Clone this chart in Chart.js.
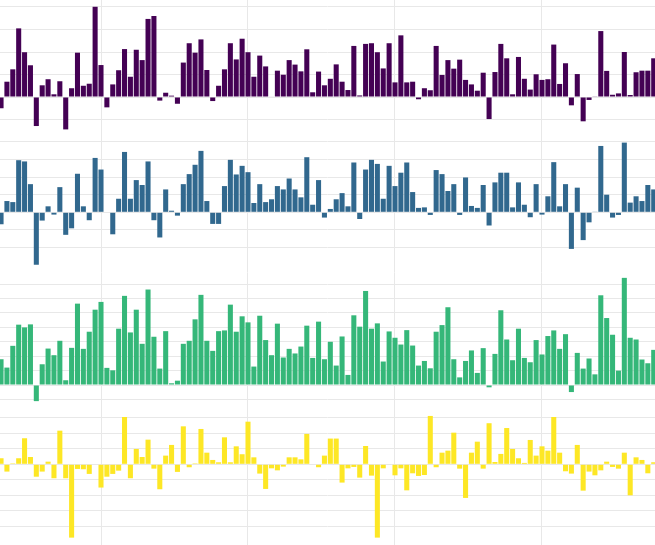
<!DOCTYPE html>
<html>
<head>
<meta charset="utf-8">
<script src="https://cdn.jsdelivr.net/npm/chart.js@4.4.0/dist/chart.umd.min.js"></script>
<style>
  html, body { margin: 0; padding: 0; background: #fff; }
  #wrap { width: 655px; height: 545px; }
</style>
</head>
<body>
<div id="wrap"><canvas id="myChart"></canvas></div>
<script>
// x positions of the bars (vertical gridline every 25 bars)
const barIndex = [];
for (let k = -17; k <= 94; k++) barIndex.push(k);

// series values, one per bar
const purple = [
  -0.5, 0.68, 1.23, 3.05, 1.99, 1.41, -1.29, 0.52, 0.79, 0.12,
  0.70, -1.44, 0.39, 1.97, 0.50, 0.59, 4.01, 1.42, -0.46, 0.56,
  1.19, 2.13, 0.90, 2.10, 1.64, 3.47, 3.6, -0.16, 0.19, 0.06,
  -0.3, 1.53, 2.39, 1.97, 2.56, 1.2, -0.18, 0.5, 1.23, 2.39,
  1.67, 2.59, 1.99, 0.90, 1.84, 1.36, 0.02, 1.17, 0.99, 1.64,
  1.44, 1.14, 2.12, 0.21, 1.13, 0.52, 0.81, 1.45, 0.68, 0.31,
  2.27, 0.07, 2.36, 2.39, 1.99, 1.27, 2.39, 0.65, 2.74, 0.65,
  0.68, -0.1, 0.39, 0.3, 2.27, 0.98, 1.64, 1.26, 1.66, 0.76,
  0.56, 0.28, 1.08, -0.98, 1.11, 2.36, 1.72, 0.12, 1.78, 0.81,
  0.33, 1.01, 0.76, 0.79, 2.33, 0.58, 1.5, -0.37, 1.02, -1.08,
  -0.13, 0.03, 2.93, 1.16, 0.1, 0.16, 2.0, 0.09, 1.1, 1.17,
  1.17, 1.72
];
const blue = [
  -0.68, 0.64, 0.58, 2.96, 2.89, 1.6, -2.98, -0.47, 0.34, -0.13,
  1.43, -1.28, -0.91, 2.19, 0.34, -0.45, 3.09, 2.43, 0, -1.25,
  0.77, 3.43, 0.77, 1.83, 1.55, 2.89, -0.45, -1.43, 1.3, 0.09,
  -0.19, 1.6, 2.17, 2.7, 3.49, 0.64, -0.66, -0.66, 1.49, 2.98,
  2.15, 2.64, 2.28, 0.53, 1.6, 0.58, 0.74, 1.49, 1.3, 1.92,
  1.3, 0.85, 3.13, 0.43, 1.83, -0.3, 0.19, 0.74, 1.09, 0.34,
  2.83, -0.38, 2.43, 2.98, 2.75, 0.77, 2.64, 1.49, 2.25, 2.83,
  1.15, 0.25, 0.28, -0.15, 2.4, 2.17, 1.21, 1.6, -0.15, 1.98,
  0.36, 0.25, 1.55, -0.75, 1.7, 2.25, 2.25, 0.28, 1.7, 0.43,
  -0.28, 1.6, -0.13, 0.91, 2.85, 0.34, 1.6, -2.08, 1.4, -1.58,
  -0.57, 0.02, 3.77, 1.0, -0.3, -0.15, 3.96, 0.55, 0.91, 0.64,
  1.55, 1.3
];
const green = [
  1.79, 1.21, 2.72, 4.19, 4.0, 4.21, -1.12, 1.44, 2.53, 2.07,
  3.07, 0.33, 2.58, 5.65, 2.51, 3.7, 5.23, 5.77, 1.19, 1.02,
  3.91, 6.19, 3.65, 5.23, 2.86, 6.63, 3.35, 1.14, 3.74, 0.12,
  0.3, 2.86, 3.07, 4.56, 6.26, 3.07, 2.37, 3.74, 3.79, 5.58,
  3.7, 4.77, 4.35, 1.28, 4.81, 3.12, 2.07, 4.26, 1.91, 2.51,
  2.19, 2.67, 4.12, 1.88, 4.4, 1.79, 3.0, 1.35, 3.37, 0.7,
  4.84, 4.05, 6.53, 3.91, 4.28, 1.63, 3.72, 3.28, 2.81, 3.81,
  2.74, 1.35, 1.67, 1.16, 3.7, 4.16, 5.4, 1.79, 0.53, 1.67,
  2.4, 0.84, 2.56, -0.16, 2.16, 5.19, 3.16, 1.72, 3.91, 1.88,
  1.58, 3.12, 2.12, 3.4, 3.79, 2.51, 3.53, -0.49, 2.23, 1.14,
  1.84, 0.74, 6.23, 4.65, 3.49, 1.0, 7.44, 3.28, 3.16, 1.77,
  1.51, 2.44
];
const yellow = [
  0.39, -0.47, 0.06, 0.39, 1.68, 0.47, -0.8, -0.47, 0.17, -0.9,
  2.17, -0.9, -4.73, -0.3, -0.32, -0.62, 0, -1.5, -0.8, -0.62,
  -0.41, 3.05, -0.9, 0.99, 0.47, 1.59, -0.28, -1.61, 0.56, 1.25,
  -0.49, 2.45, -0.19, 0.06, 2.28, 0.75, 0.28, 0.13, 1.74, 0.13,
  1.16, 0.65, 2.75, 0.45, -0.6, -1.59, -0.26, -0.39, -0.15, 0.45,
  0.45, 0.32, 1.96, 0, -0.19, 0.56, 1.66, 1.66, -1.18, -0.26,
  -0.17, -0.86, 1.18, -0.73, -4.73, -0.26, -0.03, -0.71, -0.26, -1.68,
  -0.58, -0.75, -0.69, 3.12, -0.19, 0.75, 0.88, 2.04, -0.28, -2.17,
  0.75, 1.46, -0.28, 2.65, 0.15, 0.67, 2.34, 0.99, 0.39, 0.09,
  1.57, 0.56, 1.16, 0.88, 3.05, 0.75, -0.45, -0.6, 1.25, -1.7,
  -0.47, -0.71, -0.39, 0.17, -0.17, -0.28, 0.75, -2.0, 0.45, 0.28,
  -0.58, 0.13
];

const gridColor = '#e8e8e8';

// one panel of the stacked y axes
function panelAxis(min, max, weight) {
  return {
    type: 'linear',
    position: 'right',
    stack: 'panels',
    stackWeight: weight,
    min: min,
    max: max,
    ticks: { display: false, stepSize: 1, includeBounds: false },
    grid: { color: gridColor, drawTicks: false },
    border: { display: false }
  };
}

// empty strip between panels
function gapAxis(weight) {
  return {
    type: 'linear',
    position: 'right',
    stack: 'panels',
    stackWeight: weight,
    min: 0,
    max: 1,
    ticks: { display: false },
    grid: { display: false, drawTicks: false },
    border: { display: false }
  };
}

function series(values, color, axis) {
  return {
    data: values.map((v, i) => ({ x: barIndex[i], y: v })),
    backgroundColor: color,
    borderWidth: 0,
    yAxisID: axis,
    grouped: false,
    barPercentage: 0.86,
    categoryPercentage: 1,
    clip: false
  };
}

const config = {
    type: 'bar',
    data: {
        datasets: [
            series(purple, '#440154', 'p1'),
            series(blue, '#31688e', 'p2'),
            series(green, '#35b779', 'p3'),
            series(yellow, '#fde725', 'p4')
        ]
    },
    options: {
        responsive: true,
        maintainAspectRatio: false,
        animation: false,
        layout: { padding: 0 },
        plugins: {
            legend: { display: false },
            tooltip: { enabled: false }
        },
        scales: {
            x: {
                type: 'linear',
                position: 'bottom',
                min: -17.177,
                max: 94.218,
                offset: false,
                ticks: { display: false, stepSize: 25, includeBounds: false },
                grid: { color: gridColor, drawTicks: false, offset: false },
                border: { display: false }
            },
            p1: panelAxis(-1.333, 4.311, 127),
            gap1: gapAxis(7),
            p2: panelAxis(-2.483, 4.449, 122),
            gap2: gapAxis(20),
            p3: panelAxis(-1.458, 7.569, 130),
            gap3: gapAxis(4),
            p4: panelAxis(-4.561, 3.503, 125),
            gap4: gapAxis(10)
        }
    }
};

const myChart = new Chart(document.getElementById('myChart'), config);
</script>
</body>
</html>
